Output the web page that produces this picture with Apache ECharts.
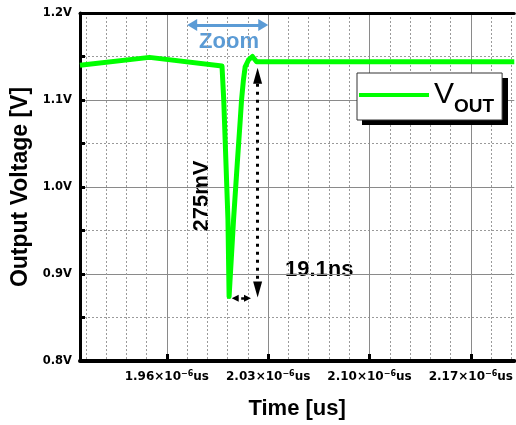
<!DOCTYPE html>
<html><head><meta charset="utf-8">
<script src="https://cdn.jsdelivr.net/npm/echarts@6/dist/echarts.min.js"></script>
<style>html,body{margin:0;padding:0;background:#fff}#c{width:516px;height:425px}</style>
</head><body><div id="c"></div>
<script>
// ---- data ----
const timeValues = [1.900, 1.948, 1.9981, 1.9993, 2.0022, 2.0030, 2.0061, 2.0088, 2.0107, 2.0116, 2.0129, 2.0141, 2.0164, 2.0191, 2.0220, 2.200];
const voutValues = [1.140, 1.149, 1.139, 1.100, 0.963, 0.874, 0.963, 1.031, 1.077, 1.100, 1.123, 1.138, 1.146, 1.150, 1.144, 1.144];
const xMajorTicks = [1.96, 2.03, 2.10, 2.17];
const xMinorTicks = [1.904, 1.918, 1.932, 1.946, 1.974, 1.988, 2.002, 2.016, 2.044, 2.058, 2.072, 2.086, 2.114, 2.128, 2.142, 2.156, 2.184, 2.198];
const xRange = [1.90, 2.20];
const yRange = [0.8, 1.2];
const yInterval = 0.1;
// annotation anchors (data units)
const zoomArrow = [[1.9775, 1.1863], [2.0266, 1.1863]];
const dropArrow = [[2.0227, 1.128], [2.0227, 0.8823]];
const widthArrow = [[2.0072, 0.872], [2.0157, 0.872]];

const seriesData = timeValues.map((t, i) => [t, voutValues[i]]);
const lblFont = 'DejaVu Sans';
const mainFont = '"Liberation Sans", Arial, sans-serif';

const chart = echarts.init(document.getElementById('c'), null, {renderer: 'canvas'});
function arrowSeries(pts, color, width, type, size) {
  return {
    type: 'line', data: [], silent: true, symbol: 'none',
    markLine: {
      silent: true, animation: false,
      symbol: ['triangle', 'triangle'], symbolSize: size,
      label: {show: false},
      lineStyle: {color: color, width: width, type: type},
      emphasis: {disabled: true},
      data: [[{coord: pts[0]}, {coord: pts[1]}]]
    }
  };
}
chart.setOption({
  animation: false,
  backgroundColor: '#fff',
  grid: {left: 80, top: 13, right: 0, bottom: 61, containLabel: false},
  xAxis: [{
    type: 'value', min: xRange[0], max: xRange[1], position: 'bottom',
    name: 'Time [us]', nameLocation: 'middle', nameGap: 37,
    nameTextStyle: {fontFamily: mainFont, fontWeight: 'bold', fontSize: 22, color: '#000'},
    axisLine: {onZero: false, lineStyle: {color: '#000', width: 4}},
    axisTick: {show: true, inside: true, length: 7, lineStyle: {color: '#000', width: 3}, customValues: xMajorTicks},
    axisLabel: {
      customValues: xMajorTicks, margin: 9, color: '#000',
      formatter: v => '{b|' + v.toFixed(2) + '×10}{s|−6}{b|us}',
      rich: {
        b: {fontFamily: lblFont, fontWeight: 'bold', fontSize: 12, color: '#000', lineHeight: 14},
        s: {fontFamily: lblFont, fontWeight: 'bold', fontSize: 8, color: '#000', verticalAlign: 'top', lineHeight: 8}
      }
    },
    splitLine: {show: true, lineStyle: {color: '#8a8a8a', width: 1, type: 'solid'}}
  }, {
    type: 'value', min: xRange[0], max: xRange[1], position: 'top',
    axisLine: {onZero: false, lineStyle: {color: '#000', width: 3}},
    axisTick: {show: false, customValues: xMinorTicks},
    axisLabel: {show: false, customValues: xMinorTicks},
    splitLine: {show: true, lineStyle: {color: '#9a9a9a', width: 1, type: [2, 2]}}
  }],
  yAxis: {
    type: 'value', min: yRange[0], max: yRange[1], interval: yInterval,
    name: 'Output Voltage [V]', nameLocation: 'middle', nameGap: 41,
    nameTextStyle: {fontFamily: mainFont, fontWeight: 'bold', fontSize: 23, color: '#000'},
    axisLine: {show: true, onZero: false, lineStyle: {color: '#000', width: 3}},
    axisTick: {show: true, inside: true, length: 5, lineStyle: {color: '#000', width: 3}},
    minorTick: {show: true, splitNumber: 2, length: 5, lineStyle: {color: '#000', width: 3}},
    axisLabel: {
      margin: 8, color: '#000', fontFamily: lblFont, fontWeight: 'bold', fontSize: 11.5,
      formatter: v => v.toFixed(1) + 'V'
    },
    splitLine: {show: true, lineStyle: {color: '#8a8a8a', width: 1}},
    minorSplitLine: {show: true, lineStyle: {color: '#9a9a9a', width: 1, type: [2, 2]}}
  },
  legend: {
    show: true, data: [{name: 'VOUT', icon: 'rect'}], left: 357, top: 73, orient: 'vertical',
    padding: [7, 8, 4, 2], itemWidth: 70, itemHeight: 4,
    backgroundColor: '#fff', borderColor: '#333', borderWidth: 1,
    itemStyle: {color: '#00ff00'},
    formatter: () => '{v|V}{o|OUT}',
    textStyle: {
      rich: {
        v: {fontFamily: mainFont, fontSize: 30, color: '#000', lineHeight: 30, verticalAlign: 'top'},
        o: {fontFamily: mainFont, fontSize: 19, fontWeight: 'bold', color: '#000', lineHeight: 19, padding: [17, 0, 0, 0], verticalAlign: 'top'}
      }
    }
  },
  series: [{
    name: 'VOUT', type: 'line', data: seriesData, symbol: 'none', showSymbol: false,
    lineStyle: {color: '#00ff00', width: 5, join: 'round'}, itemStyle: {color: '#00ff00'},
    xAxisIndex: 0, yAxisIndex: 0, z: 3
  },
  arrowSeries(zoomArrow, '#5b9bd5', 3, 'solid', [12, 10]),
  arrowSeries(dropArrow, '#000', 3, [3, 5], [9, 16]),
  arrowSeries(widthArrow, '#000', 2.5, [3, 3], [7, 7])
  ],
  graphic: [
    {type: 'rect', left: 362, top: 78, z: 3, silent: true, shape: {width: 146, height: 47}, style: {fill: '#000'}},
    {type: 'text', x: 229, y: 42, silent: true, style: {text: 'Zoom', fill: '#5b9bd5', font: 'bold 22px ' + mainFont, align: 'center', verticalAlign: 'middle'}},
    {type: 'text', x: 202, y: 196, rotation: Math.PI / 2, silent: true, style: {text: '275mV', fill: '#000', font: 'bold 22px ' + mainFont, align: 'center', verticalAlign: 'middle'}},
    {type: 'text', x: 285, y: 270, silent: true, style: {text: '19.1ns', fill: '#000', font: 'bold 22px ' + mainFont, align: 'left', verticalAlign: 'middle'}}
  ]
});
</script></body></html>
